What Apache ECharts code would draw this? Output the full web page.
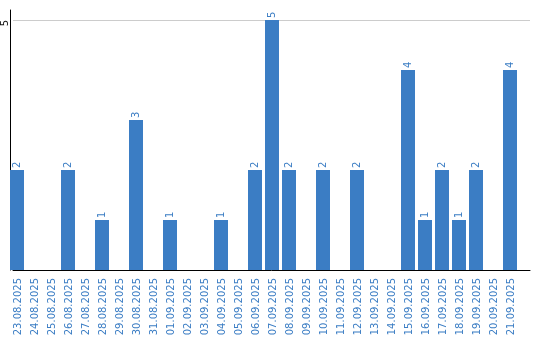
<!DOCTYPE html>
<html>
<head>
<meta charset="utf-8">
<script src="https://cdn.jsdelivr.net/npm/echarts@6/dist/echarts.min.js"></script>
<style>html,body{margin:0;padding:0;background:#fff;}#c{width:540px;height:340px;}</style>
</head>
<body>
<div id="c"></div>
<script>
const categories = ['23.08.2025','24.08.2025','25.08.2025','26.08.2025','27.08.2025','28.08.2025','29.08.2025','30.08.2025','31.08.2025','01.09.2025','02.09.2025','03.09.2025','04.09.2025','05.09.2025','06.09.2025','07.09.2025','08.09.2025','09.09.2025','10.09.2025','11.09.2025','12.09.2025','13.09.2025','14.09.2025','15.09.2025','16.09.2025','17.09.2025','18.09.2025','19.09.2025','20.09.2025','21.09.2025'];
const values = [2,0,0,2,0,1,0,3,0,1,0,0,1,0,2,5,2,0,2,0,2,0,0,4,1,2,1,2,0,4];
const yTicks = [0, 5];

const blue = '#3b7dc4';
const font = 'DejaVu Sans';
const chart = echarts.init(document.getElementById('c'));
chart.setOption({
  animation: false,
  grid: [
    {left: 10, right: 20, top: 20, bottom: 70},
    {left: 10, right: 10, top: 20, bottom: 70},
    {left: 10, right: 10, top: 10, bottom: 70}
  ],
  xAxis: [
    {gridIndex: 0, type: 'category', data: categories,
     axisLine: {show: false}, axisTick: {show: false}, splitLine: {show: false},
     axisLabel: {rotate: 90, interval: 0, fontSize: 10, fontFamily: font, color: blue, margin: 8}},
    {gridIndex: 1, type: 'category', data: categories,
     axisLine: {show: true, lineStyle: {color: '#000', width: 1}}, axisTick: {show: false}, axisLabel: {show: false}, splitLine: {show: false}},
    {gridIndex: 2, type: 'category', data: categories, show: false}
  ],
  yAxis: [
    {gridIndex: 0, type: 'value', min: yTicks[0], max: yTicks[1], interval: yTicks[1] - yTicks[0], show: false},
    {gridIndex: 1, type: 'value', min: yTicks[0], max: yTicks[1], interval: yTicks[1] - yTicks[0],
     axisLine: {show: false}, axisTick: {show: false},
     splitLine: {show: true, lineStyle: {color: '#cccccc', width: 1}},
     axisLabel: {rotate: 90, fontSize: 10, fontFamily: font, color: '#111', margin: 3,
                 align: 'center', padding: [0, 6, 0, 0],
                 formatter: v => (v === 0 ? '' : String(v))}},
    {gridIndex: 2, type: 'value', min: 0, max: 1,
     axisLine: {show: true, lineStyle: {color: '#000', width: 1}}, axisTick: {show: false},
     axisLabel: {show: false}, splitLine: {show: false}}
  ],
  series: [
    {type: 'bar', xAxisIndex: 0, yAxisIndex: 0, data: values, barWidth: 14, barGap: 0,
     itemStyle: {color: blue},
     label: {show: true, position: 'top', distance: 2, rotate: 90, align: 'left', verticalAlign: 'middle',
             fontSize: 10, fontFamily: font, color: blue,
             formatter: p => (p.value === 0 ? '' : String(p.value))}},
    {type: 'bar', xAxisIndex: 0, yAxisIndex: 0, data: [], barWidth: 3, silent: true}
  ]
});
</script>
</body>
</html>
